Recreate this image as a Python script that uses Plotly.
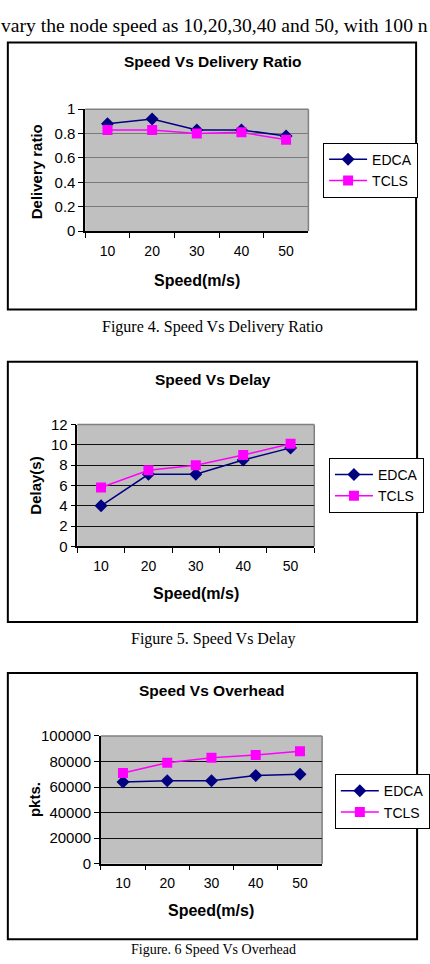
import plotly.graph_objects as go

W, H = 430, 964

speeds = ["10", "20", "30", "40", "50"]
dr_edca = [0.88, 0.92, 0.83, 0.83, 0.78]
dr_tcls = [0.83, 0.83, 0.80, 0.81, 0.75]
delay_edca = [4.0, 7.1, 7.1, 8.5, 9.7]
delay_tcls = [5.8, 7.5, 8.0, 9.0, 10.1]
oh_edca = [64000, 65000, 65000, 69000, 70000]
oh_tcls = [71000, 79000, 83000, 85000, 88000]


def px(x):
    return x / W


def py(y):
    return 1 - y / H


SANS = "Liberation Sans, Arial, sans-serif"
SERIF = "Liberation Serif, Times New Roman, serif"
NAVY = "#000080"
MAG = "#FF00FF"

# plot areas in pixels: (x0, x1, ytop, ybottom)
areas = [(87, 315, 102, 226), (79, 321, 423, 547), (103, 329, 740, 870)]
data = [(dr_edca, dr_tcls), (delay_edca, delay_tcls), (oh_edca, oh_tcls)]
yranges = [[0, 1], [0, 12], [0, 100000]]
ydticks = [0.2, 2, 20000]
gridcols = ["#7a7a7a", "#111111", "#111111"]
legend_pos = [(330, 136), (336, 457), (342, 779)]
legend_names = ["legend", "legend2", "legend3"]

fig = go.Figure()
layout = dict(
    width=W, height=H, margin=dict(l=0, r=0, t=0, b=0),
    paper_bgcolor="white", plot_bgcolor="#C0C0C0",
    font=dict(family=SANS, color="black"),
    showlegend=True,
)

shapes = []
for i in range(3):
    sfx = "" if i == 0 else str(i + 1)
    xa, ya = "x" + sfx, "y" + sfx
    e, t = data[i]
    fig.add_trace(go.Scatter(
        x=speeds, y=e, name="EDCA", mode="lines+markers",
        line=dict(color=NAVY, width=1.5),
        marker=dict(symbol="diamond", size=10, color=NAVY),
        xaxis=xa, yaxis=ya, legend=legend_names[i]))
    fig.add_trace(go.Scatter(
        x=speeds, y=t, name="TCLS", mode="lines+markers",
        line=dict(color=MAG, width=1.5),
        marker=dict(symbol="square", size=10, color=MAG),
        xaxis=xa, yaxis=ya, legend=legend_names[i]))
    x0, x1, yt, yb = areas[i]
    layout["xaxis" + sfx] = dict(
        domain=[px(x0), px(x1)], anchor=ya, type="category",
        range=[-0.5, 4.5], tickson="boundaries", ticks="outside", ticklen=5,
        tickcolor="black", showline=True, linecolor="black", linewidth=1.5,
        showgrid=False, tickfont=dict(size=14), ticklabelstandoff=6,
        fixedrange=True)
    layout["yaxis" + sfx] = dict(
        domain=[py(yb), py(yt)], anchor=xa, range=yranges[i],
        dtick=ydticks[i], ticks="outside", ticklen=5, tickcolor="black",
        showline=True, linecolor="black", linewidth=1.5,
        showgrid=True, gridcolor=gridcols[i], gridwidth=1,
        tickformat="d" if i == 2 else None,
        zeroline=False, tickfont=dict(size=15), fixedrange=True)
    # grey top & right border of plot area
    shapes.append(dict(type="line", xref=xa + " domain", yref=ya + " domain",
                       x0=0, x1=1, y0=1, y1=1, line=dict(color="#808080", width=1.5),
                       layer="below"))
    shapes.append(dict(type="line", xref=xa + " domain", yref=ya + " domain",
                       x0=1, x1=1, y0=0, y1=1, line=dict(color="#808080", width=1.5),
                       layer="below"))
    lx, ly = legend_pos[i]
    layout[legend_names[i]] = dict(
        x=px(lx), y=py(ly), xanchor="left", yanchor="top",
        bgcolor="white", bordercolor="black", borderwidth=1,
        font=dict(size=14, family=SANS), itemwidth=38, tracegroupgap=4)

# outer boxes
for (bx0, by0, bx1, by1) in [(8, 34, 425, 306), (8, 359, 426, 624), (8, 676, 426, 947)]:
    shapes.append(dict(type="rect", xref="paper", yref="paper",
                       x0=px(bx0), x1=px(bx1), y0=py(by1), y1=py(by0),
                       line=dict(color="black", width=2), fillcolor="rgba(0,0,0,0)"))
layout["shapes"] = shapes

ann = []


def text(x, y, s, size, family=SANS, bold=False, angle=0, xanchor="center", yanchor="middle"):
    ann.append(dict(x=px(x), y=py(y), xref="paper", yref="paper", text=("<b>%s</b>" % s) if bold else s,
                    showarrow=False, textangle=angle, xanchor=xanchor, yanchor=yanchor,
                    font=dict(family=family, size=size, color="black")))


text(-1, 17, "vary the node speed as 10,20,30,40 and 50, with 100 n", 19.6, family=SERIF, xanchor="left")
text(217, 53, "Speed Vs Delivery Ratio", 15.5, bold=True)
text(218, 377, "Speed Vs Delay", 15.5, bold=True)
text(217, 694, "Speed Vs Overhead", 15.5, bold=True)
text(37, 166, "Delivery ratio", 15, bold=True, angle=-90)
text(36, 485, "Delay(s)", 15, bold=True, angle=-90)
text(36, 805, "pkts.", 15, bold=True, angle=-90)
text(201, 276, "Speed(m/s)", 16, bold=True)
text(200, 595, "Speed(m/s)", 16, bold=True)
text(216, 918, "Speed(m/s)", 16, bold=True)
text(217, 324, "Figure 4. Speed Vs Delivery Ratio", 16, family=SERIF)
text(218, 641, "Figure 5. Speed Vs Delay", 16, family=SERIF)
text(218, 948, "Figure. 6 Speed Vs Overhead", 14, family=SERIF, yanchor="top")
layout["annotations"] = ann

fig.update_layout(**layout)
fig.write_html("out.html", config={"displayModeBar": False})
